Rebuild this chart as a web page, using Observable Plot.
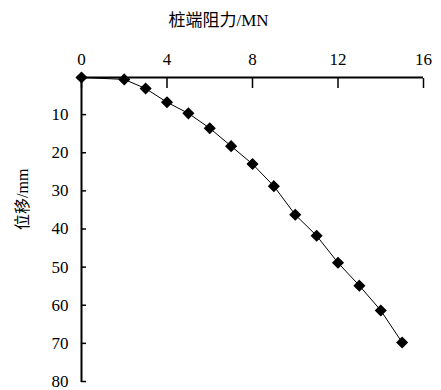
<!DOCTYPE html>
<html>
<head>
<meta charset="utf-8">
<script src="https://cdn.jsdelivr.net/npm/d3@7"></script>
<script src="https://cdn.jsdelivr.net/npm/@observablehq/plot@0.6"></script>
<style>
  body { margin: 0; background: #fff; }
  svg { font-family: "Liberation Serif", "Times New Roman", "Noto Sans CJK SC", serif; }
</style>
</head>
<body>
<div id="chart"></div>
<script>
const resistance = [0, 2, 3, 4, 5, 6, 7, 8, 9, 10, 11, 12, 13, 14, 15];
const displacement = [0, 0.5, 2.9, 6.5, 9.4, 13.3, 18.0, 22.7, 28.5, 36.0, 41.5, 48.6, 54.6, 61.1, 69.5];
const xTicks = [0, 4, 8, 12, 16];
const yTicks = [10, 20, 30, 40, 50, 60, 70, 80];
const xLabel = "桩端阻力/MN";
const yLabel = "位移/mm";

const data = resistance.map((x, i) => ({x, y: displacement[i]}));

const chart = Plot.plot({
  width: 441,
  height: 390,
  marginTop: 77,
  marginLeft: 81,
  marginRight: 18,
  marginBottom: 8,
  style: {fontSize: "17px", fontFamily: "'Liberation Serif', 'Times New Roman', 'Noto Sans CJK SC', serif", color: "#000", overflow: "visible"},
  x: {domain: [0, 16]},
  y: {domain: [0, 80], reverse: true},
  marks: [
    Plot.axisX(xTicks, {anchor: "top", tickSize: -10, tickPadding: 23, label: null, strokeWidth: 1.5, fontSize: 17}),
    Plot.axisY(yTicks, {anchor: "left", tickSize: -5, tickPadding: 18, label: null, strokeWidth: 1.5, fontSize: 17, dy: -1}),
    Plot.text([xLabel], {text: d => d, frameAnchor: "top", dx: -34, dy: -52, lineAnchor: "bottom", fontSize: 17, fill: "#000"}),
    Plot.text([yLabel], {text: d => d, frameAnchor: "left", dx: -59, rotate: -90, fontSize: 16, fill: "#000"}),
    Plot.ruleY([0], {stroke: "#000", strokeWidth: 2}),
    Plot.ruleX([0], {stroke: "#000", strokeWidth: 2}),
    Plot.line(data, {x: "x", y: "y", stroke: "#000", strokeWidth: 1}),
    Plot.dot(data, {x: "x", y: "y", symbol: "diamond2", r: 4.5, fill: "#000", stroke: "#000"})
  ]
});
document.getElementById("chart").appendChild(chart);
</script>
</body>
</html>
